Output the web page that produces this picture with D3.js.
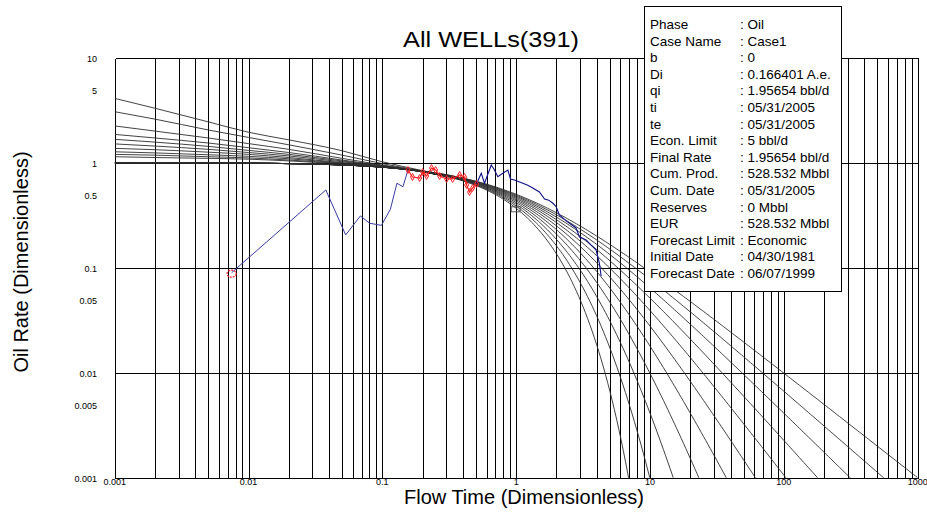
<!DOCTYPE html>
<html>
<head>
<meta charset="utf-8">
<script src="https://cdn.jsdelivr.net/npm/d3@7"></script>
<style>
  body { margin: 0; background: #fff; }
  svg text { font-family: Arial, "Liberation Sans", sans-serif; fill: #000; }
</style>
</head>
<body>
<svg id="chart" width="927" height="529"></svg>
<script>
// Arps depletion stems (b exponent of each type curve)
var bValues = [0, 0.1, 0.2, 0.3, 0.4, 0.5, 0.6, 0.7, 0.8, 0.9, 1];

// transient stems (rate at each time)
var stemTimes = [0.001, 0.002, 0.005, 0.01, 0.02, 0.05, 0.1, 0.2, 0.3];
var stemRates = [
  [4.10, 3.30, 2.45, 1.95, 1.65, 1.30, 1.02, 0.84, 0.75],
  [3.06, 2.60, 2.05, 1.74, 1.48, 1.18, 0.98, 0.83, 0.745],
  [2.24, 2.00, 1.72, 1.52, 1.34, 1.10, 0.95, 0.825, 0.742],
  [1.86, 1.72, 1.54, 1.39, 1.25, 1.06, 0.94, 0.822, 0.741],
  [1.67, 1.57, 1.43, 1.31, 1.20, 1.04, 0.93, 0.821, 0.741],
  [1.51, 1.44, 1.34, 1.25, 1.16, 1.02, 0.925, 0.82, 0.741],
  [1.37, 1.33, 1.26, 1.20, 1.12, 1.00, 0.92, 0.82, 0.741],
  [1.27, 1.24, 1.19, 1.15, 1.09, 0.99, 0.915, 0.82, 0.741],
  [1.20, 1.18, 1.14, 1.11, 1.06, 0.98, 0.912, 0.82, 0.741],
  [1.14, 1.12, 1.10, 1.08, 1.04, 0.97, 0.91, 0.82, 0.741]
];

// well data: blue rate line before / after the red matched points
var blueEarly = [[0.00747, 0.0896], [0.0378, 0.55], [0.0532, 0.205], [0.0685, 0.311], [0.0804, 0.265],
  [0.0984, 0.253], [0.1148, 0.36], [0.1285, 0.637], [0.1425, 0.59], [0.1553, 0.852]];
var redPts = [[0.1553, 0.852], [0.168, 0.731], [0.190, 0.715], [0.200, 0.815], [0.214, 0.747], [0.233, 0.890],
  [0.250, 0.852], [0.268, 0.747], [0.302, 0.70], [0.335, 0.70], [0.378, 0.763], [0.411, 0.731],
  [0.426, 0.613], [0.448, 0.526], [0.472, 0.574], [0.505, 0.627]];
var blueLate = [[0.505, 0.627], [0.548, 0.793], [0.580, 0.637], [0.651, 0.951], [0.688, 0.852], [0.729, 0.736],
  [0.794, 0.793], [0.866, 0.852], [0.907, 0.70], [0.971, 0.684], [1.12, 0.637], [1.22, 0.61], [1.33, 0.574],
  [1.49, 0.526], [1.63, 0.451], [1.75, 0.44], [1.88, 0.411], [1.99, 0.381], [2.10, 0.318], [2.36, 0.279],
  [2.80, 0.239], [2.97, 0.196], [3.33, 0.184], [3.63, 0.164], [3.95, 0.148], [4.18, 0.111], [4.31, 0.0834]];
var firstPoint = [0.00747, 0.0896];
var matchPoint = [1.0, 0.36];

var xTicks = [0.001, 0.01, 0.1, 1, 10, 100, 1000];
var yTicks = [10, 5, 1, 0.5, 0.1, 0.05, 0.01, 0.005, 0.001];

var infoLabels = ["Phase", "Case Name", "b", "Di", "qi", "ti", "te", "Econ. Limit", "Final Rate",
  "Cum. Prod.", "Cum. Date", "Reserves", "EUR", "Forecast Limit", "Initial Date", "Forecast Date"];
var infoValues = ["Oil", "Case1", "0", "0.166401 A.e.", "1.95654 bbl/d", "05/31/2005", "05/31/2005",
  "5 bbl/d", "1.95654 bbl/d", "528.532 Mbbl", "05/31/2005", "0 Mbbl", "528.532 Mbbl", "Economic",
  "04/30/1981", "06/07/1999"];

var svg = d3.select("#chart");
var plot = { left: 114.7, right: 917.7, top: 57.7, bottom: 477.7 };

var x = d3.scaleLog().domain([0.001, 1000]).range([plot.left, plot.right]);
var y = d3.scaleLog().domain([0.001, 10]).range([plot.bottom, plot.top]);
var px = v => Math.round(x(v)) + 0.5;
var py = v => Math.round(y(v)) + 0.5;

svg.append("defs").append("clipPath").attr("id", "plotClip")
  .append("rect")
  .attr("x", plot.left).attr("y", plot.top)
  .attr("width", plot.right - plot.left).attr("height", plot.bottom - plot.top);

// grid: every 1..9 in x, decades only in y
var vLines = [];
xTicks.slice(0, -1).forEach(d => {
  for (var k = 1; k < 10; k++) vLines.push(+(k * d).toPrecision(3));
});
vLines.push(1000);
var hLines = [0.001, 0.01, 0.1, 1, 10];

var grid = svg.append("g").attr("shape-rendering", "crispEdges")
  .attr("stroke", "#000").attr("stroke-width", 1);
grid.selectAll("line.v").data(vLines).join("line")
  .attr("class", "v")
  .attr("x1", d => px(d)).attr("x2", d => px(d))
  .attr("y1", py(10)).attr("y2", py(0.001));
grid.selectAll("line.h").data(hLines).join("line")
  .attr("class", "h")
  .attr("x1", px(0.001)).attr("x2", px(1000))
  .attr("y1", d => py(d)).attr("y2", d => py(d));

// type curves
var curves = svg.append("g").attr("clip-path", "url(#plotClip)")
  .attr("fill", "none").attr("stroke", "#2e2e2e").attr("stroke-width", 0.9);

var line = d3.line().x(d => x(d[0])).y(d => y(d[1]));

var sampleT = d3.range(0, 361).map(i => Math.pow(10, -3 + i / 60));
bValues.forEach(b => {
  var pts = [];
  for (var i = 0; i < sampleT.length; i++) {
    var t = sampleT[i];
    var q = b === 0 ? Math.exp(-t) : Math.pow(1 + b * t, -1 / b);
    pts.push([t, Math.max(q, 0.0005)]);
    if (q < 0.0005) break;
  }
  curves.append("path").attr("d", line(pts));
});

var stemLine = d3.line().x(d => x(d[0])).y(d => y(d[1])).curve(d3.curveMonotoneX);
stemRates.forEach(r => {
  curves.append("path").attr("d", stemLine(stemTimes.map((t, i) => [t, r[i]])));
});

// well data
var dataG = svg.append("g").attr("clip-path", "url(#plotClip)").attr("fill", "none");
dataG.append("path").attr("d", line(blueEarly)).attr("stroke", "#3a3aa8").attr("stroke-width", 1);
dataG.append("path").attr("d", line(blueLate)).attr("stroke", "#10108a").attr("stroke-width", 1.1);
dataG.append("path").attr("d", line(redPts)).attr("stroke", "#ff2020").attr("stroke-width", 1.2);
dataG.selectAll("path.mk").data(redPts).join("path")
  .attr("class", "mk")
  .attr("transform", d => `translate(${x(d[0])},${y(d[1])})`)
  .attr("d", d3.symbol(d3.symbolDiamond, 14))
  .attr("stroke", "#ff2020").attr("stroke-width", 1);
dataG.append("ellipse")
  .attr("cx", x(firstPoint[0])).attr("cy", y(firstPoint[1]) + 1)
  .attr("rx", 4.5).attr("ry", 3.5)
  .attr("stroke", "#ff2020").attr("stroke-width", 1.2).attr("stroke-dasharray", "2,1");
dataG.append("rect")
  .attr("x", x(matchPoint[0]) - 5).attr("y", y(matchPoint[1]) - 2.5)
  .attr("width", 9).attr("height", 5)
  .attr("stroke", "#555").attr("stroke-width", 1);

// tick labels
svg.append("g").selectAll("text").data(xTicks).join("text")
  .attr("x", d => x(d)).attr("y", 484.5)
  .attr("text-anchor", "middle").attr("font-size", "9px")
  .text(d => d);
svg.append("g").selectAll("text").data(yTicks).join("text")
  .attr("x", 97).attr("y", d => y(d) + 4.5)
  .attr("text-anchor", "end").attr("font-size", "9px")
  .text(d => d);

// titles
svg.append("text").attr("x", 403).attr("y", 47)
  .attr("font-size", "22px")
  .attr("textLength", 176).attr("lengthAdjust", "spacingAndGlyphs")
  .text("All WELLs(391)");
svg.append("text").attr("x", 524).attr("y", 504)
  .attr("text-anchor", "middle").attr("font-size", "20px")
  .text("Flow Time (Dimensionless)");
svg.append("text")
  .attr("transform", "translate(28,262) rotate(-90)")
  .attr("text-anchor", "middle").attr("font-size", "20px")
  .text("Oil Rate (Dimensionless)");

// info box
var box = svg.append("g");
box.append("rect").attr("x", 644.5).attr("y", 6.5).attr("width", 197).attr("height", 285)
  .attr("fill", "#fff").attr("stroke", "#000").attr("stroke-width", 1)
  .attr("shape-rendering", "crispEdges");
box.selectAll("text.lbl").data(infoLabels).join("text")
  .attr("class", "lbl")
  .attr("x", 650).attr("y", (d, i) => 29 + i * 16.6)
  .attr("font-size", "13.5px").text(d => d);
box.selectAll("text.val").data(infoValues).join("text")
  .attr("class", "val")
  .attr("x", 740).attr("y", (d, i) => 29 + i * 16.6)
  .attr("font-size", "13.5px").text(d => ": " + d);
</script>
</body>
</html>
